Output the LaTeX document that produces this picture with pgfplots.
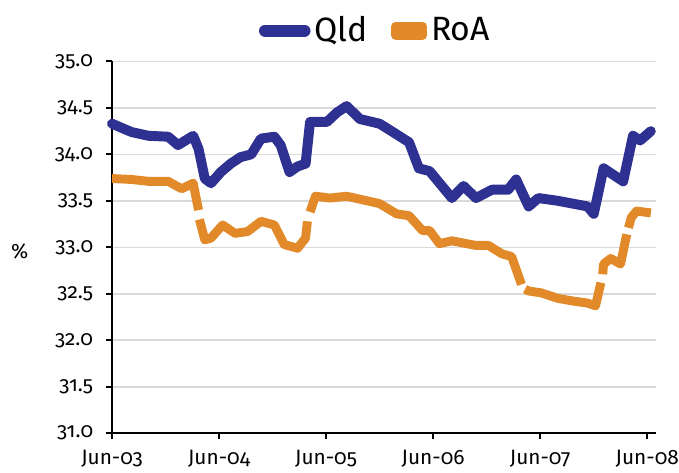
\documentclass[border=0pt]{standalone}
\usepackage{pgfplots}
\pgfplotsset{compat=1.18}
\usepackage{fontspec}
\setmainfont{Fira Sans}[Numbers=OldStyle]

\definecolor{qld}{RGB}{46,49,146}
\definecolor{roa}{RGB}{226,138,42}
\definecolor{gridgray}{RGB}{218,218,218}

\begin{document}
\begin{tikzpicture}
\begin{axis}[
  scale only axis,
  width=274.5pt, height=187.5pt,
  xmin=0, xmax=61, ymin=31, ymax=35,
  axis lines*=left,
  axis line style={line width=1pt, black},
  xtick={0,12,24,36,48,60},
  xticklabels={Jun-03,Jun-04,Jun-05,Jun-06,Jun-07,Jun-08},
  ytick={31,31.5,...,35},
  /pgf/number format/fixed,
  /pgf/number format/fixed zerofill,
  /pgf/number format/precision=1,
  /pgf/number format/assume math mode=true,
  tick align=outside,
  major tick length=3pt,
  tick style={line width=1pt, black},
  ymajorgrids,
  grid style={gridgray, line width=0.8pt},
  tick label style={font=\fontsize{10.5}{12.5}\selectfont},
  yticklabel style={xshift=-3pt},
  xticklabel style={yshift=-2pt},
  unbounded coords=jump,
  legend columns=2,
  legend style={at={(0.486,1.083)}, anchor=center, draw=none, fill=none,
    font=\fontsize{17}{20}\selectfont,
    /tikz/every even column/.append style={column sep=10pt}},
  clip=false,
]
\addplot[qld, line width=5pt, line join=round, line cap=round,
  legend image code/.code={\draw[qld, line width=6pt, line cap=round] (3pt,0pt) -- (23pt,0pt);}]
coordinates {
  (0,34.33) (2.2,34.24) (4.1,34.20) (6.3,34.19) (7.4,34.10) (9.1,34.20)
  (9.7,34.06) (10.4,33.74) (11.1,33.69) (12.2,33.81) (13.3,33.90) (14.4,33.97)
  (15.6,34.00) (16.7,34.17) (18.2,34.19) (18.9,34.10) (19.9,33.81) (20.8,33.87)
  (21.7,33.90) (22.2,34.35) (24.1,34.35) (25.2,34.45) (26.3,34.52) (27.8,34.38)
  (30.0,34.33) (31.5,34.24) (33.3,34.13) (34.4,33.85) (35.6,33.82) (38.1,33.53)
  (39.4,33.66) (40.8,33.53) (42.6,33.62) (44.4,33.62) (45.3,33.73) (46.7,33.44)
  (47.8,33.53) (50.0,33.50) (53.3,33.44) (54.0,33.36) (55.1,33.85) (56.2,33.78)
  (57.3,33.71) (58.4,34.20) (59.2,34.15) (60.4,34.25)
};
\addlegendentry{Qld}
\addplot[roa, line width=4.5pt, line join=round,
  legend image code/.code={\fill[roa] (0pt,-2.25pt) rectangle (13.5pt,2.25pt);}]
coordinates {
  (0,33.74) (2.2,33.73) (4.1,33.71) (6.3,33.71) (7.8,33.63) (9.1,33.69)
  (9.7,33.40) (9.7,nan) (9.8,33.30)
  (10.4,33.08) (11.1,33.10) (12.4,33.24) (13.8,33.15) (15.2,33.17) (16.7,33.28)
  (18.2,33.24) (19.3,33.03) (20.8,32.99) (21.7,33.10)
  (21.9,33.28) (21.9,nan) (22.2,33.38)
  (22.8,33.55) (24.4,33.53) (26.3,33.55) (30.0,33.47) (31.9,33.36) (33.3,33.34)
  (34.8,33.18) (35.6,33.18) (36.7,33.04) (38.1,33.07) (40.8,33.02) (42.2,33.02)
  (43.7,32.93) (44.8,32.90)
  (45.9,32.60) (45.9,nan) (46.3,32.55)
  (46.7,32.53) (48.1,32.51) (50.0,32.45) (51.8,32.42) (53.3,32.40) (54.2,32.37)
  (54.8,32.62) (54.8,nan) (55.0,32.71)
  (55.1,32.82) (55.9,32.88) (57.0,32.82)
  (57.7,33.14) (57.7,nan) (57.9,33.21)
  (58.2,33.32) (58.8,33.39) (60.4,33.37)
};
\addlegendentry{RoA}
\node[font=\fontsize{10.5}{12.5}\selectfont] at (rel axis cs:0,0.49) [xshift=-46.5pt] {\%};
\end{axis}
\pgfresetboundingbox
\path[use as bounding box] (-56.5pt,-20pt) rectangle (286pt,218.5pt);
\end{tikzpicture}
\end{document}
